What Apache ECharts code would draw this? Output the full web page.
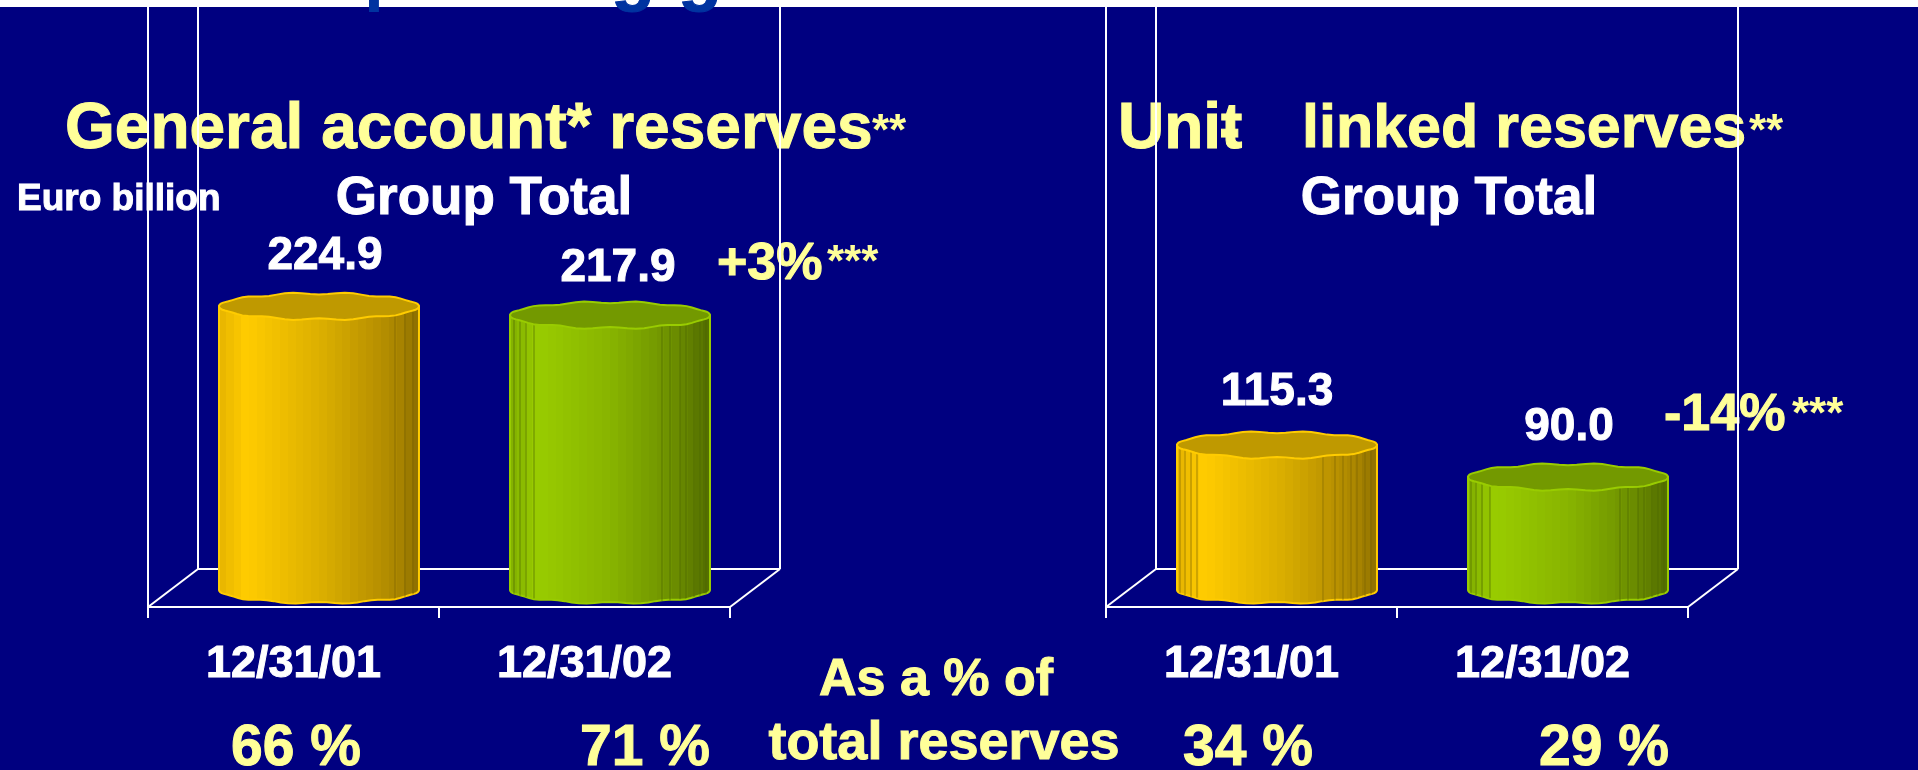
<!DOCTYPE html>
<html><head><meta charset="utf-8">
<style>html,body{margin:0;padding:0;background:#000080}#c{width:1918px;height:770px}</style>
<script src="https://cdn.jsdelivr.net/npm/echarts@6/dist/echarts.min.js"></script>
</head><body><div id="c"></div>
<script>
// ---- data ----
const categories = ['12/31/01', '12/31/02'];
const generalValues = [224.9, 217.9];
const unitValues = [115.3, 90.0];
const generalShares = ['66 %', '71 %'];
const unitShares = ['34 %', '29 %'];
const generalChange = '+3%';
const unitChange = '-14%';
const generalTitle = 'General account* reserves';
const groupLabel = 'Group Total';
const unitName = 'Unit';
const linkedName = 'linked reserves';
const unitNote = 'Euro billion';
const shareCaption = ['As a % of', 'total reserves'];
const titleFragments = ['p', 'g', 'g'];

// ---- styling ----
const FONT = '"Liberation Sans", Arial, sans-serif';
const NAVY = '#000080', YELLOW = '#ffff99', WHITE = '#ffffff', TITLEBLUE = '#0033a0';
const DEPTH = {x: 51, y: 38};
const AXIS_MAX = 474;
const palettes = [
  {top: '#bf9900', edge: '#ffcc00', keys: [[0, [230,180,0]], [.14, [255,204,0]], [.5, [220,176,0]], [.78, [186,146,0]], [.9, [168,132,0]], [1, [140,110,0]]], seam: '#7d6200'},
  {top: '#739900', edge: '#99cc00', keys: [[0, [130,175,0]], [.14, [153,204,0]], [.5, [136,180,0]], [.78, [112,148,0]], [.9, [98,128,0]], [1, [82,108,0]]], seam: '#4d6600'}
];
const seamSets = {
  general: [[.88, .93, .97], [.02, .05, .08, .12, .76, .8, .85, .88, .92, .95, .98]],
  unit: [[.015, .04, .07, .1, .73, .79, .83, .87, .9, .94, .97], [.015, .04, .07, .11, .76, .8, .85, .88, .92, .95, .98]]
};
const labelNudges = {general: [[6, 2], [8, 5]], unit: [[0, -1], [1, 2]]};

function stepped(keys) {
  const stops = [], n = 26;
  const at = t => {
    let i = 0; while (i < keys.length - 2 && t > keys[i + 1][0]) i++;
    const [a, ca] = keys[i], [b, cb] = keys[i + 1], f = (t - a) / (b - a);
    return 'rgb(' + ca.map((c, k) => Math.round(c + (cb[k] - c) * f)).join(',') + ')';
  };
  for (let i = 0; i < n; i++) {
    const c = at((i + .5) / n);
    stops.push({offset: i / n, color: c}, {offset: (i + 1) / n, color: c});
  }
  return {type: 'linear', x: 0, y: 0, x2: 1, y2: 0, colorStops: stops};
}
function rim(cx, cy, rx, ry, from, to, steps) {
  const pts = [];
  for (let i = 0; i <= steps; i++) {
    const a = from + (to - from) * i / steps;
    const wob = 1.1 * Math.sin(a * 11) * Math.abs(Math.sin(a));
    pts.push([cx + rx * Math.cos(a), cy + ry * Math.sin(a) + wob]);
  }
  return pts;
}
function cylinder(key) {
  return function (params, api) {
    const i = api.value(0), v = api.value(1), c = api.coord([i, v]), base = api.coord([i, 0]);
    const rx = api.size([1, 0])[0] * .3436, ry = 13;
    const cx = c[0] + DEPTH.x / 2, topY = c[1] - 16, botY = base[1] - 17;
    const p = palettes[i], kids = [];
    const front = rim(cx, botY, rx, ry, Math.PI, 0, 40);
    kids.push({type: 'polygon', shape: {points: [[cx - rx, topY]].concat(front, [[cx + rx, topY]])},
      style: {fill: stepped(p.keys), stroke: p.edge, lineWidth: 2}});
    seamSets[key][i].forEach(f => {
      const x = cx - rx + 2 * rx * f, h = Math.sqrt(Math.max(0, 1 - Math.pow(2 * f - 1, 2))) * ry;
      kids.push({type: 'line', shape: {x1: x, y1: topY + h, x2: x, y2: botY + h},
        style: {stroke: p.seam, lineWidth: 1, opacity: .65}});
    });
    kids.push({type: 'polygon', shape: {points: rim(cx, topY, rx, ry, 0, Math.PI * 2, 72)},
      style: {fill: p.top, stroke: p.edge, lineWidth: 2}});
    const n = labelNudges[key][i];
    kids.push({type: 'text', style: {text: v.toFixed(1), x: cx + n[0], y: topY - 52 + n[1],
      textAlign: 'center', textVerticalAlign: 'middle', fill: WHITE, stroke: WHITE, lineWidth: 1, font: 'bold 46px ' + FONT}});
    return {type: 'group', children: kids};
  };
}
function frame(params) {
  const s = params.coordSys, L = s.x, R = s.x + s.width, B = s.y + s.height, T = s.y;
  const st = {stroke: WHITE, lineWidth: 2};
  const seg = (x1, y1, x2, y2) => ({type: 'line', shape: {x1, y1, x2, y2}, style: st});
  return {type: 'group', children: [
    seg(L + DEPTH.x - 1, T, L + DEPTH.x - 1, B - DEPTH.y),
    seg(R + DEPTH.x - 1, T, R + DEPTH.x - 1, B - DEPTH.y),
    seg(L + DEPTH.x - 1, B - DEPTH.y, R + DEPTH.x - 1, B - DEPTH.y),
    seg(L, B, L + DEPTH.x - 1, B - DEPTH.y),
    seg(R, B, R + DEPTH.x - 1, B - DEPTH.y)
  ]};
}
const txt = (text, x, y, size, fill, align, bold) => ({type: 'text', z: 0, style: {text, x, y, fill,
  stroke: fill, lineWidth: bold === 0 ? 0 : 1,
  font: 'bold ' + size + 'px ' + FONT, textAlign: align || 'center', textVerticalAlign: 'middle'}});
const annotations = [
  {type: 'rect', z: 0, shape: {x: 0, y: 0, width: 1918, height: 7}, style: {fill: WHITE}},
  {type: 'text', z: 0, style: {text: titleFragments[0], x: 364, y: -23, fill: TITLEBLUE, font: 'bold 72px ' + FONT, textVerticalAlign: 'middle'}},
  {type: 'text', z: 0, style: {text: titleFragments[1], x: 611, y: -23, fill: TITLEBLUE, stroke: TITLEBLUE, lineWidth: 1, font: 'bold 72px ' + FONT, textVerticalAlign: 'middle'}},
  {type: 'text', z: 0, style: {text: titleFragments[2], x: 678, y: -23, fill: TITLEBLUE, stroke: TITLEBLUE, lineWidth: 1, font: 'bold 72px ' + FONT, textVerticalAlign: 'middle'}},
  txt(generalTitle, 65, 130, 64, YELLOW, 'left'),
  txt('**', 872, 133, 44, YELLOW, 'left', 0),
  txt(unitName, 1118, 130, 64, YELLOW, 'left'),
  txt('-', 1219, 132, 64, YELLOW, 'left'),
  txt(linkedName, 1302, 130, 61, YELLOW, 'left'),
  txt('**', 1749, 133, 44, YELLOW, 'left', 0),
  txt(unitNote, 17, 200, 37, WHITE, 'left'),
  txt(groupLabel, 484, 199, 53, WHITE),
  txt(groupLabel, 1449, 199, 53, WHITE),
  txt(generalChange, 717, 265, 52, YELLOW, 'left'),
  txt('***', 827, 264, 44, YELLOW, 'left', 0),
  txt(unitChange, 1664, 416, 52, YELLOW, 'left'),
  txt('***', 1792, 416, 44, YELLOW, 'left', 0),
  txt(generalShares[0], 296, 749, 57, YELLOW),
  txt(generalShares[1], 645, 749, 57, YELLOW),
  txt(unitShares[0], 1248, 749, 57, YELLOW),
  txt(unitShares[1], 1604, 749, 57, YELLOW),
  txt(shareCaption[0], 936, 681, 52, YELLOW),
  txt(shareCaption[1], 944, 744, 54, YELLOW)
];
const xAxisOf = gridIndex => ({type: 'category', gridIndex, data: categories, z: 1,
  axisLine: {show: true, onZero: false, lineStyle: {color: WHITE, width: 2}},
  axisTick: {show: true, alignWithLabel: false, length: 11, lineStyle: {color: WHITE, width: 2}},
  axisLabel: {color: WHITE, fontFamily: FONT, fontWeight: 'bold', fontSize: 45, margin: 35, interval: 0,
    textBorderColor: WHITE, textBorderWidth: 1}});
const yAxisOf = gridIndex => ({type: 'value', gridIndex, min: 0, max: AXIS_MAX, z: 1,
  axisLine: {show: true, lineStyle: {color: WHITE, width: 2}}, axisTick: {show: false},
  axisLabel: {show: false}, splitLine: {show: false}});
const frameSeries = i => ({type: 'custom', xAxisIndex: i, yAxisIndex: i, z: 2, silent: true, renderItem: frame, data: [[0, 0]]});
const barSeries = (i, key, vals) => ({type: 'custom', xAxisIndex: i, yAxisIndex: i, z: 3, silent: true,
  renderItem: cylinder(key), encode: {x: 0, y: 1}, data: vals.map((v, k) => [k, v])});

const chart = echarts.init(document.getElementById('c'), null, {renderer: 'canvas'});
chart.setOption({
  animation: false,
  backgroundColor: NAVY,
  grid: [
    {left: 148, top: 7, width: 582, height: 600},
    {left: 1106, top: 7, width: 582, height: 600}
  ],
  xAxis: [xAxisOf(0), xAxisOf(1)],
  yAxis: [yAxisOf(0), yAxisOf(1)],
  graphic: {elements: annotations},
  series: [frameSeries(0), frameSeries(1), barSeries(0, 'general', generalValues), barSeries(1, 'unit', unitValues)]
});
</script></body></html>
